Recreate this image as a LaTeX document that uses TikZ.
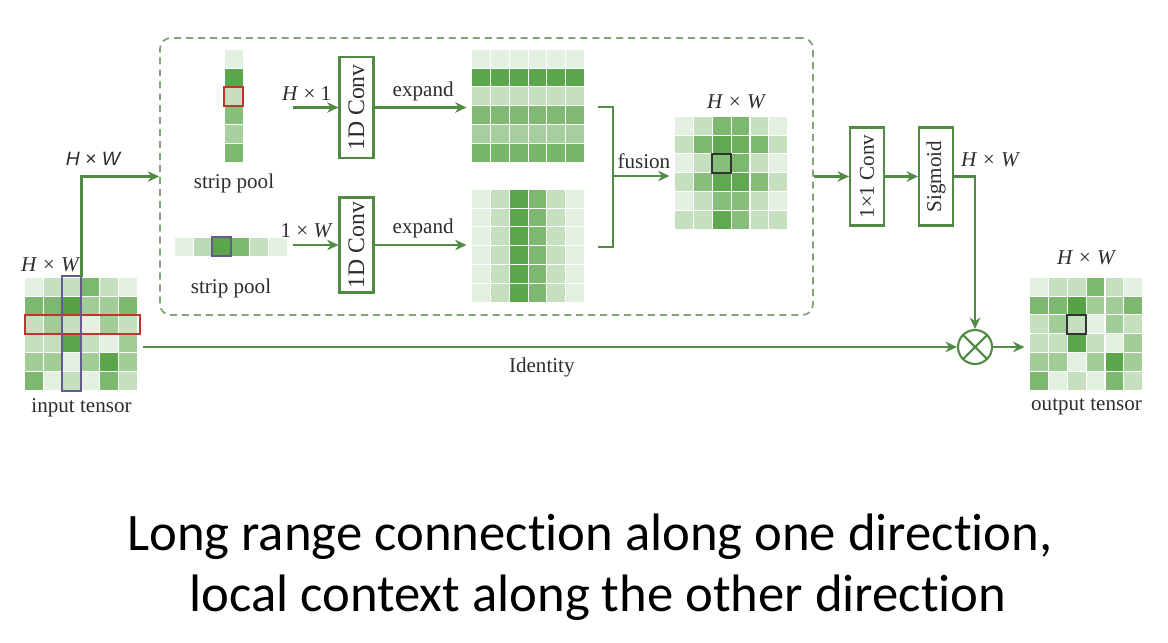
\documentclass[tikz,border=0pt]{standalone}
\usepackage{graphicx}
\usepackage{fontspec}
\setmainfont{Liberation Serif}
\newfontfamily\capfont[Ligatures=NoCommon]{Carlito}
\newfontfamily\labsans{Liberation Sans}
\usetikzlibrary{arrows.meta,calc,positioning}
\definecolor{cellg}{RGB}{62,150,42}
\definecolor{flowg}{RGB}{80,138,68}
\definecolor{boxg}{RGB}{130,165,120}
\definecolor{redbox}{RGB}{185,55,45}
\definecolor{purbox}{RGB}{100,90,140}
\definecolor{txt}{RGB}{45,45,45}

% shade levels of the tensors (rows, left to right)
\newcommand\inputvals{{14,30,30,68,30,14},{68,68,88,48,48,68},{30,48,30,14,48,30},{30,30,85,30,14,48},{48,48,14,48,85,48},{68,14,30,14,68,30}}
\newcommand\fusevals{{14,30,68,68,30,14},{30,68,82,76,68,30},{14,30,62,68,30,14},{30,62,82,82,64,30},{14,30,62,62,30,14},{30,30,82,62,30,30}}
\newcommand\rowvals{{14,14,14,14,14,14},{85,85,85,85,85,85},{30,30,30,30,30,30},{66,66,66,66,66,66},{46,46,46,46,46,46},{70,70,70,70,70,70}}
\newcommand\colvals{{14,30,85,68,30,14},{14,30,85,68,30,14},{14,30,85,68,30,14},{14,30,85,68,30,14},{14,30,85,68,30,14},{14,30,85,68,30,14}}
\newcommand\stripa{{14},{85},{30},{62},{45},{68}}
\newcommand\stripb{{14,35,85,68,30,14}}

% cells of a tensor, from the north west corner of node #1
\newcommand\tgrid[2]{%
  \begin{scope}[shift={(#1.north west)}]
    \foreach \rv [count=\ri] in #2 {
      \foreach \v [count=\ci] in \rv {
        \fill[cellg!\v, draw=white, line width=0.6pt] ({(\ci-1)*18.8},{(\ri-1)*18.8}) rectangle ++(18.8,18.8);
      }
    }
  \end{scope}}

\begin{document}
\begin{tikzpicture}[x=0.02cm, y=-0.02cm, font=\fontsize{12}{14}\selectfont, text=txt,
    flow/.style={draw=flowg, line width=1.3pt, -{Stealth[length=6.5pt,width=6pt]}},
    bare/.style={draw=flowg, line width=1.3pt},
    tensor/.style={inner sep=0pt, minimum width=2.256cm, minimum height=2.256cm},
    opbox/.style={draw=flowg, line width=1.2pt, fill=white, inner sep=0pt, minimum width=0.68cm, minimum height=1.96cm},
    dashbox/.style={draw=boxg, line width=1pt, dash pattern=on 4pt off 2.8pt, rounded corners=6pt, inner sep=0pt},
    dim/.style={font=\fontsize{12}{14}\selectfont\itshape}]
    \fill[white] (0,0) rectangle (1168,642);
    \useasboundingbox (0,0) rectangle (1168,642);

    % strip pooling block
    \node[dashbox, minimum width=13.06cm, minimum height=5.54cm] (box) at (486.5,176.5) {};

    % input tensor
    \node[tensor] (inp) at (81.5,334) {};
    \tgrid{inp}{\inputvals}
    \begin{scope}[shift={(inp.north west)}]
        \draw[redbox, line width=1.1pt] (0,37.6) rectangle (115,56.4);
        \draw[purbox, line width=1.1pt] (37.6,-1) rectangle (56.4,113.8);
    \end{scope}
    \node[dim] (hwin) at (50,265) {H × W};
    \node[below=1pt of inp] (inlab) {input tensor};

    % the two strips
    \node[tensor, minimum width=0.376cm] (spa) at (234,106) {};
    \tgrid{spa}{\stripa}
    \draw[redbox, line width=1.1pt] ($(spa.north west)+(0,37.6)$) rectangle ++(18.8,18.8);
    \node[below=3pt of spa] (spalab) {strip pool};

    \node[tensor, minimum height=0.376cm] (spb) at (231,247) {};
    \tgrid{spb}{\stripb}
    \draw[purbox, line width=1.1pt] ($(spb.north west)+(37.6,0)$) rectangle ++(18.8,18.8);
    \node[below=9pt of spb] (spblab) {strip pool};

    % 1D convolutions
    \node[opbox, minimum height=2.02cm] (conva) at (356.5,107.5) {\rotatebox{90}{\fontsize{13.5}{15}\selectfont 1D Conv}};
    \node[opbox, minimum height=1.9cm] (convb) at (356.5,245) {\rotatebox{90}{\fontsize{13.5}{15}\selectfont 1D Conv}};
    \coordinate (ina) at (293,107.5);
    \coordinate (inb) at (293,245);
    \draw[flow] (ina) -- (conva.west) node[pos=0.3, above] {\textit{H} × 1};
    \draw[flow] (inb) -- (convb.west) node[pos=0.3, above] {1 × \textit{W}};

    % expanded strips
    \node[tensor] (expa) at (528.5,106) {};
    \tgrid{expa}{\rowvals}
    \node[tensor] (expb) at (528.5,246) {};
    \tgrid{expb}{\colvals}
    \draw[flow, shorten >=3pt] (conva.east) -- (conva.east -| expa.west) node[midway, above] {expand};
    \draw[flow, shorten >=3pt] (convb.east) -- (convb.east -| expb.west) node[midway, above] {expand};

    % fusion
    \coordinate (bra) at (598,107);
    \coordinate (brb) at (598,247);
    \coordinate (fj) at (613,176);
    \draw[bare] (bra) -| (fj) |- (brb);
    \node[tensor] (fus) at (731.5,173) {};
    \tgrid{fus}{\fusevals}
    \draw[line width=1.1pt, black!80] ($(fus.north west)+(37.6,37.6)$) rectangle ++(18.8,18.8);
    \node[dim] (hwfus) at (736,102) {H × W};
    \draw[flow, shorten >=3pt] (fj) -- (fj -| fus.west) node[midway, above] {fusion};

    % input into the block
    \draw[flow] (inp.north) |- (box.west);
    \node[font=\labsans\fontsize{11}{13}\selectfont\itshape] (hwtop) at (93,159) {H × W};

    % 1x1 conv and sigmoid
    \node[opbox] (cone) at (867,176.5) {\rotatebox{90}{1×1 Conv}};
    \node[opbox] (sig) at (936,176.5) {\rotatebox{90}{Sigmoid}};
    \draw[flow] (box.east) -- (cone.west);
    \draw[flow] (cone.east) -- (sig.west);

    % product with the identity
    \node[draw=flowg, line width=1.2pt, circle, minimum size=0.68cm, inner sep=0pt,
        path picture={\draw[flowg, line width=1.2pt]
            (path picture bounding box.north west) -- (path picture bounding box.south east)
            (path picture bounding box.north east) -- (path picture bounding box.south west);}] (mul) at (975,347) {};
    \draw[flow] (sig.east) -| (mul.north);
    \node[dim] (hwsig) at (990,160) {H × W};
    \coordinate (idn) at (143,347);
    \draw[flow] (idn) -- (mul.west) node[pos=0.49, below=2pt] {Identity};

    % output tensor
    \node[tensor] (outp) at (1086.5,334) {};
    \tgrid{outp}{\inputvals}
    \draw[line width=1.1pt, black!80] ($(outp.north west)+(37.6,37.6)$) rectangle ++(18.8,18.8);
    \draw[flow, shorten >=3pt] (mul.east) -- (mul.east -| outp.west);
    \node[dim] (hwout) at (1086,258) {H × W};
    \node[below=1pt of outp] (outlab) {output tensor};

    % caption
    \node[font=\capfont\fontsize{30}{35}\selectfont, text=black, anchor=base] (capa) at (590,550) {Long range connection along one direction,};
    \node[font=\capfont\fontsize{30}{35}\selectfont, text=black, anchor=base] (capb) at (598,611) {local context along the other direction};
\end{tikzpicture}
\end{document}
